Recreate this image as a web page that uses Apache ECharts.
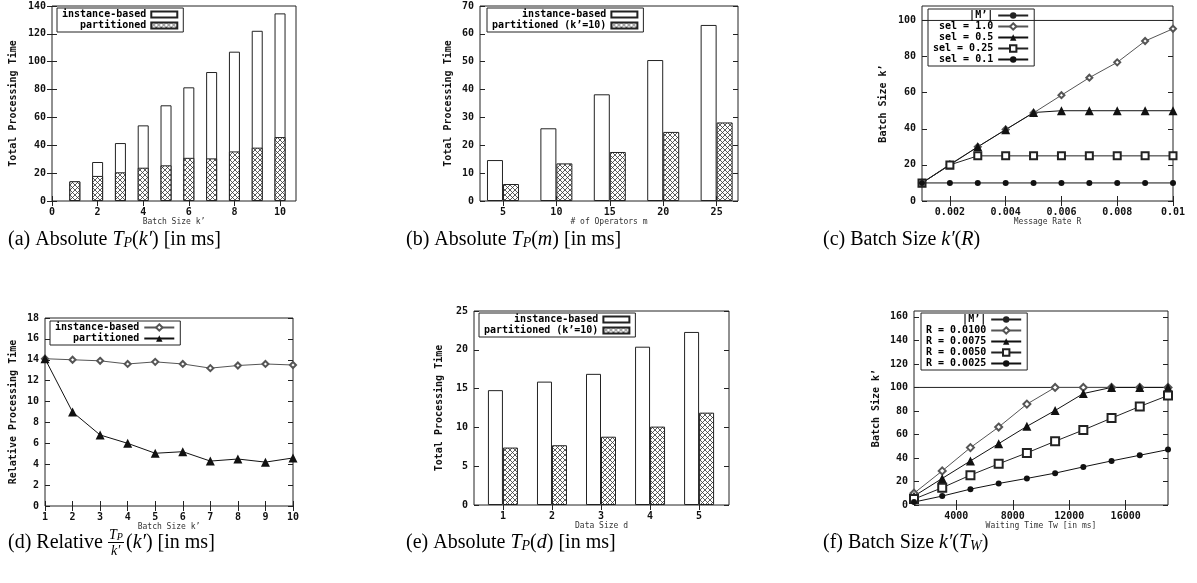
<!DOCTYPE html>
<html>
<head>
<meta charset="utf-8">
<title>batch size experiments</title>
<script src="https://cdn.jsdelivr.net/npm/echarts@6/dist/echarts.min.js"></script>
<style>
html, body { margin: 0; padding: 0; background: #fff; }
#main { width: 1197px; height: 583px; }
</style>
</head>
<body>
<div id="main"></div>
<script>
// (a) absolute processing time over the batch size k'
var batchSizes = [1, 2, 3, 4, 5, 6, 7, 8, 9, 10];
var absInstance = [14, 28, 41.6, 54.3, 68.7, 81.6, 92.6, 107.2, 122.2, 134.7];
var absPartitioned = [14.2, 18, 20.6, 23.9, 25.6, 31, 30.6, 35.6, 38.3, 45.9];

// (b) absolute processing time over the number of operators m
var operatorCounts = [5, 10, 15, 20, 25];
var opInstance = [14.7, 26.1, 38.3, 50.6, 63.2];
var opPartitioned = [6.1, 13.5, 17.6, 24.8, 28.2];

// (c) batch size over the message rate R
var messageRates = [0.001, 0.002, 0.003, 0.004, 0.005, 0.006, 0.007, 0.008, 0.009, 0.01];
var kSel10 = [10, 20.3, 30, 39.6, 48.8, 58.6, 68.3, 76.8, 88.6, 95.4];
var kSel05 = [10, 20, 30, 39.5, 49, 50, 50, 50, 50, 50];
var kSel025 = [10, 20, 25, 25, 25, 25, 25, 25, 25, 25];
var kSel01 = [10, 10, 10, 10, 10, 10, 10, 10, 10, 10];
var maxMessages = 100; // |M'|

// (d) relative processing time (per message) over k'
var relInstance = [14.1, 14, 13.9, 13.6, 13.8, 13.6, 13.2, 13.45, 13.6, 13.5];
var relPartitioned = [14.1, 9, 6.8, 6, 5.05, 5.2, 4.3, 4.5, 4.2, 4.6];

// (e) absolute processing time over the data size d
var dataSizes = [1, 2, 3, 4, 5];
var dsInstance = [14.8, 15.9, 16.9, 20.4, 22.3];
var dsPartitioned = [7.4, 7.7, 8.8, 10.1, 11.9];

// (f) batch size over the waiting time Tw
var waitTimes = [1000, 3000, 5000, 7000, 9000, 11000, 13000, 15000, 17000, 19000];
var kR0100 = [10, 29, 48.8, 66.3, 85.8, 100, 100, 100, 100, 100];
var kR0075 = [7.5, 22.6, 37.5, 52.2, 66.9, 80.4, 94.8, 100, 100, 100];
var kR0050 = [5, 14.7, 25.4, 35, 44.3, 54.2, 63.8, 73.9, 83.8, 93.1];
var kR0025 = [2.5, 7.6, 13.5, 18.3, 22.6, 27.1, 32.4, 37.5, 42.3, 47.1];

// tick labels
var ticksA = [0, 2, 4, 6, 8, 10];
var ticksB = [5, 10, 15, 20, 25];
var ticksC = [0.002, 0.004, 0.006, 0.008, 0.01];
var ticksD = [1, 2, 3, 4, 5, 6, 7, 8, 9, 10];
var ticksE = [1, 2, 3, 4, 5];
var ticksF = [4000, 8000, 12000, 16000];

var MONO = 'DejaVu Sans Mono';
var SERIF = 'Liberation Serif';
var INK = '#222';

// legend label per series key (same text is used in several panels)
var labels = {
  'a-inst': 'instance-based', 'a-part': 'partitioned',
  'b-inst': 'instance-based', 'b-part': 'partitioned (k’=10)',
  'c-m': '|M’|', 'c-10': 'sel = 1.0', 'c-05': 'sel = 0.5', 'c-025': 'sel = 0.25', 'c-01': 'sel = 0.1',
  'd-inst': 'instance-based', 'd-part': 'partitioned',
  'e-inst': 'instance-based', 'e-part': 'partitioned (k’=10)',
  'f-m': '|M’|', 'f-0100': 'R = 0.0100', 'f-0075': 'R = 0.0075', 'f-0050': 'R = 0.0050', 'f-0025': 'R = 0.0025'
};

// cross hatch fill like gnuplot pattern
function hatch() {
  var c = document.createElement('canvas');
  c.width = 5; c.height = 5;
  var g = c.getContext('2d');
  g.fillStyle = '#fff';
  g.fillRect(0, 0, 5, 5);
  g.strokeStyle = '#333';
  g.lineWidth = 0.8;
  g.beginPath();
  g.moveTo(0, 0); g.lineTo(5, 5);
  g.moveTo(5, 0); g.lineTo(0, 5);
  g.stroke();
  return { image: c, repeat: 'repeat' };
}
var HATCH = hatch();

function pairs(xs, ys) {
  return xs.map(function (x, j) { return [x, ys[j]]; });
}

// main axis + mirrored axis (ticks only) for a grid
function axisPair(dim, grid, o) {
  var tick = { show: true, inside: true, length: 5, customValues: o.ticks, lineStyle: { color: INK } };
  var main = {
    type: 'value', gridIndex: grid, min: o.min, max: o.max,
    position: dim === 'x' ? 'bottom' : 'left',
    name: o.name, nameLocation: 'middle', nameGap: o.gap,
    nameTextStyle: dim === 'x'
      ? { fontFamily: MONO, fontSize: 8, color: '#333' }
      : { fontFamily: MONO, fontWeight: 'bold', fontSize: 10, color: '#111' },
    axisLine: { show: false },
    axisTick: tick,
    axisLabel: {
      customValues: o.ticks, margin: 6,
      fontFamily: MONO, fontWeight: 'bold', fontSize: 10, color: '#111',
      formatter: function (v) { return String(v); }
    },
    splitLine: { show: false }
  };
  var mirror = {
    type: 'value', gridIndex: grid, min: o.min, max: o.max,
    position: dim === 'x' ? 'top' : 'right',
    axisLine: { show: false },
    axisTick: tick,
    axisLabel: { show: false },
    splitLine: { show: false }
  };
  return [main, mirror];
}

function legendBox(left, top, names, isBar) {
  var lg = {
    left: left, top: top, orient: 'vertical', align: 'right',
    data: names, selectedMode: false,
    itemWidth: isBar ? 26 : 30, itemHeight: isBar ? 6 : 8, itemGap: 0,
    padding: [1, 5, 1, 5],
    borderColor: INK, borderWidth: 1, borderRadius: 0,
    textStyle: { fontFamily: MONO, fontWeight: 'bold', fontSize: 10, color: '#000', lineHeight: 11 },
    formatter: function (n) { return labels[n]; }
  };
  if (isBar) lg.icon = 'rect';
  return lg;
}

function barSeries(key, grid, xs, ys, w, gap, fill) {
  return {
    name: key, type: 'bar', xAxisIndex: grid * 2, yAxisIndex: grid * 2,
    barWidth: w, barGap: gap, data: pairs(xs, ys),
    itemStyle: { color: fill, borderColor: INK, borderWidth: 1 }
  };
}

function lineSeries(key, grid, xs, ys, symbol, size, color) {
  return {
    name: key, type: 'line', xAxisIndex: grid * 2, yAxisIndex: grid * 2,
    data: pairs(xs, ys), symbol: symbol, symbolSize: size,
    lineStyle: { color: color, width: 1 },
    itemStyle: { color: color, borderWidth: 1 }
  };
}

var grids = [
  [52, 6, 244, 195],
  [480, 6, 258, 195],
  [922, 6, 251, 195],
  [45, 318, 248, 188],
  [474, 311, 255, 194],
  [914, 311, 254, 194]
].map(function (b) {
  return {
    left: b[0], top: b[1], width: b[2], height: b[3],
    show: true, borderColor: INK, borderWidth: 1, backgroundColor: 'transparent',
    outerBoundsMode: 'none'
  };
});

var xAxes = [].concat(
  axisPair('x', 0, { min: 0, max: 10.7, ticks: ticksA, name: 'Batch Size k’', gap: 17 }),
  axisPair('x', 1, { min: 2.85, max: 27, ticks: ticksB, name: '# of Operators m', gap: 17 }),
  axisPair('x', 2, { min: 0.001, max: 0.01, ticks: ticksC, name: 'Message Rate R', gap: 17 }),
  axisPair('x', 3, { min: 1, max: 10, ticks: ticksD, name: 'Batch Size k’', gap: 16 }),
  axisPair('x', 4, { min: 0.41, max: 5.61, ticks: ticksE, name: 'Data Size d', gap: 17 }),
  axisPair('x', 5, { min: 1000, max: 19000, ticks: ticksF, name: 'Waiting Time Tw [in ms]', gap: 17 })
);
var yAxes = [].concat(
  axisPair('y', 0, { min: 0, max: 140, ticks: [0, 20, 40, 60, 80, 100, 120, 140], name: 'Total Processing Time', gap: 34 }),
  axisPair('y', 1, { min: 0, max: 70, ticks: [0, 10, 20, 30, 40, 50, 60, 70], name: 'Total Processing Time', gap: 27 }),
  axisPair('y', 2, { min: 0, max: 108, ticks: [0, 20, 40, 60, 80, 100], name: 'Batch Size k’', gap: 34 }),
  axisPair('y', 3, { min: 0, max: 18, ticks: [0, 2, 4, 6, 8, 10, 12, 14, 16, 18], name: 'Relative Processing Time', gap: 27 }),
  axisPair('y', 4, { min: 0, max: 25, ticks: [0, 5, 10, 15, 20, 25], name: 'Total Processing Time', gap: 30 }),
  axisPair('y', 5, { min: 0, max: 165, ticks: [0, 20, 40, 60, 80, 100, 120, 140, 160], name: 'Batch Size k’', gap: 33 })
);

var series = [
  // (a) bars drawn on top of each other
  barSeries('a-inst', 0, batchSizes, absInstance, 11, '-100%', '#fff'),
  barSeries('a-part', 0, batchSizes, absPartitioned, 11, '-100%', HATCH),
  // (b) side by side
  barSeries('b-inst', 1, operatorCounts, opInstance, 16, '0%', '#fff'),
  barSeries('b-part', 1, operatorCounts, opPartitioned, 16, '0%', HATCH),
  // (c)
  lineSeries('c-m', 2, [0.001, 0.01], [maxMessages, maxMessages], 'none', 0, INK),
  lineSeries('c-10', 2, messageRates, kSel10, 'emptyDiamond', 6, '#555'),
  lineSeries('c-05', 2, messageRates, kSel05, 'triangle', 9, '#111'),
  lineSeries('c-025', 2, messageRates, kSel025, 'emptyRect', 7, '#222'),
  lineSeries('c-01', 2, messageRates, kSel01, 'circle', 6, '#111'),
  // (d)
  lineSeries('d-inst', 3, batchSizes, relInstance, 'emptyDiamond', 6, '#555'),
  lineSeries('d-part', 3, batchSizes, relPartitioned, 'triangle', 9, '#111'),
  // (e)
  barSeries('e-inst', 4, dataSizes, dsInstance, 15, '0%', '#fff'),
  barSeries('e-part', 4, dataSizes, dsPartitioned, 15, '0%', HATCH),
  // (f)
  lineSeries('f-m', 5, [1000, 19000], [maxMessages, maxMessages], 'none', 0, INK),
  lineSeries('f-0100', 5, waitTimes, kR0100, 'emptyDiamond', 7, '#555'),
  lineSeries('f-0075', 5, waitTimes, kR0075, 'triangle', 9, '#111'),
  lineSeries('f-0050', 5, waitTimes, kR0050, 'emptyRect', 8, '#222'),
  lineSeries('f-0025', 5, waitTimes, kR0025, 'circle', 6, '#111')
];

var legends = [
  legendBox(57, 8, ['a-inst', 'a-part'], true),
  legendBox(487, 8, ['b-inst', 'b-part'], true),
  legendBox(928, 9, ['c-m', 'c-10', 'c-05', 'c-025', 'c-01'], false),
  legendBox(50, 321, ['d-inst', 'd-part'], false),
  legendBox(479, 313, ['e-inst', 'e-part'], true),
  legendBox(921, 313, ['f-m', 'f-0100', 'f-0075', 'f-0050', 'f-0025'], false)
];

// sub-figure captions (LaTeX style)
var capRich = {
  i: { fontStyle: 'italic', fontFamily: SERIF, fontSize: 20 },
  s: { fontStyle: 'italic', fontFamily: SERIF, fontSize: 14, verticalAlign: 'bottom', lineHeight: 12 }
};
function caption(x, y, text, size) {
  return {
    type: 'text', x: x, y: y, silent: true,
    style: {
      text: text, rich: capRich, fontFamily: SERIF, fontSize: size || 20,
      fill: '#000', verticalAlign: 'middle'
    }
  };
}

var graphics = [
  caption(8, 240, '(a) Absolute {i|T}{s|P}({i|k′}) [in ms]'),
  caption(406, 240, '(b) Absolute {i|T}{s|P}({i|m}) [in ms]'),
  caption(823, 240, '(c) Batch Size {i|k′}({i|R})'),
  caption(8, 543, '(d) Relative'),
  caption(109, 535, '{i|T}{s|P}', 14),
  { type: 'line', silent: true, shape: { x1: 108, y1: 542.5, x2: 124, y2: 542.5 }, style: { stroke: '#000', lineWidth: 1 } },
  caption(111, 551, '{i|k′}', 14),
  caption(126, 543, '({i|k′}) [in ms]'),
  caption(406, 543, '(e) Absolute {i|T}{s|P}({i|d}) [in ms]'),
  caption(823, 543, '(f) Batch Size {i|k′}({i|T}{s|W})')
];
// fraction pieces use a smaller base font
graphics[4].style.rich = {
  i: { fontStyle: 'italic', fontFamily: SERIF, fontSize: 14 },
  s: { fontStyle: 'italic', fontFamily: SERIF, fontSize: 10, verticalAlign: 'bottom', lineHeight: 9 }
};
graphics[6].style.rich = { i: { fontStyle: 'italic', fontFamily: SERIF, fontSize: 14 } };

var myChart = echarts.init(document.getElementById('main'));
myChart.setOption({
  animation: false,
  backgroundColor: '#fff',
  grid: grids,
  xAxis: xAxes,
  yAxis: yAxes,
  legend: legends,
  series: series,
  graphic: graphics
});
</script>
</body>
</html>
